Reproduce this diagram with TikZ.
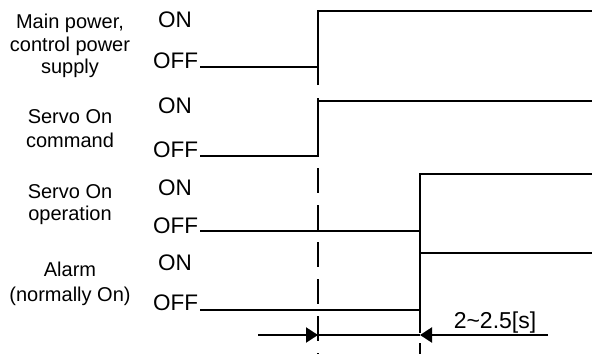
\documentclass[tikz,border=0pt]{standalone}
\usepackage{fontspec}
\setmainfont{Liberation Sans}
\usetikzlibrary{arrows.meta}
\tikzset{
  lbl/.style={anchor=base,inner sep=0pt,font=\fontsize{20}{23}\selectfont},
  lvl/.style={anchor=base,inner sep=0pt,font=\fontsize{22.5}{25}\selectfont},
  sig/.style={line width=2.2pt},
  guide/.style={line width=2.2pt,dash pattern=on 25pt off 12pt},
  dim/.style={line width=2.2pt},
  tip/.style={-{Triangle[length=12pt,width=15pt]}},
}
\begin{document}
\begin{tikzpicture}[x=1pt,y=-1pt]
\useasboundingbox (0,0) rectangle (592,354);
% labels
\node[lbl] (l1a) at (70,28) {Main power,};
\node[lbl] (l1b) at (70,51) {control power};
\node[lbl] (l1c) at (70,73) {supply};
\node[lbl] (l2a) at (70,123) {Servo On};
\node[lbl] (l2b) at (70,147) {command};
\node[lbl] (l3a) at (70,198) {Servo On};
\node[lbl] (l3b) at (70,220) {operation};
\node[lbl] (l4a) at (70,276) {Alarm};
\node[lbl] (l4b) at (70,301) {(normally On)};
% levels
\node[lvl] (on1) at (175,27) {ON};
\node[lvl] (off1) at (175.5,68) {OFF};
\node[lvl] (on2) at (175,113) {ON};
\node[lvl] (off2) at (175.5,157) {OFF};
\node[lvl] (on3) at (175,195) {ON};
\node[lvl] (off3) at (175.5,233) {OFF};
\node[lvl] (on4) at (175,270) {ON};
\node[lvl] (off4) at (175.5,310) {OFF};
% key coordinates
\coordinate (a0) at (200,67);
\coordinate (a1) at (318,67);
\coordinate (a2) at (318,11);
\coordinate (a3) at (592,11);
\coordinate (a4) at (318,85);
\coordinate (b0) at (200,156);
\coordinate (b1) at (318,156);
\coordinate (b2) at (318,101);
\coordinate (b3) at (592,101);
\coordinate (b4) at (318,98);
\coordinate (c0) at (200,231);
\coordinate (c1) at (420,231);
\coordinate (c2) at (420,174);
\coordinate (c3) at (592,174);
\coordinate (d0) at (200,310);
\coordinate (d1) at (420,310);
\coordinate (d2) at (420,253);
\coordinate (d3) at (592,253);
\coordinate (g1) at (318,354);
\coordinate (g2) at (420,354);
\coordinate (m0) at (258,335);
\coordinate (m1) at (318,335);
\coordinate (m2) at (420,335);
\coordinate (m3) at (548,335);
% signals
\draw[sig] (a0) -- (a1);
\draw[sig] (a4) -- (a2) -- (a3);
\draw[sig] (b0) -- (b1) -- (b4);
\draw[sig] (b2) -- (b3);
\draw[sig] (c0) -- (c1);
\draw[sig] (c3) -- (c2) -- (d1);
\draw[sig] (d0) -- (d1);
\draw[sig] (d2) -- (d3);
% guides
\draw[guide,dash phase=25pt] (b1) -- (g1);
\draw[guide,dash pattern=on 23pt off 10pt on 12pt off 20pt] (d1) -- (g2);
% dimension
\draw[dim,tip] (m0) -- (m1);
\draw[dim] (m1) -- (m2);
\draw[dim,tip] (m3) -- (m2);
\node[anchor=base,inner sep=0pt,font=\fontsize{23}{26}\selectfont] (t) at (495,328) {2\char"7E 2.5[s]};
\end{tikzpicture}
\end{document}
